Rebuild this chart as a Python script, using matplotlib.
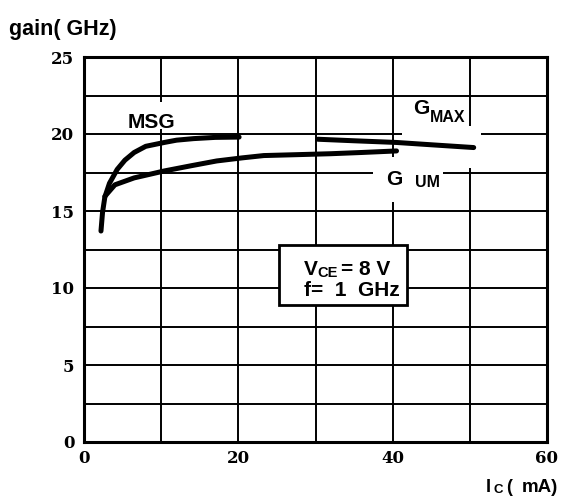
import matplotlib
matplotlib.use("Agg")
import matplotlib.pyplot as plt
from matplotlib.patches import Rectangle

# ---- data ----
msg_x = [2.2, 2.4, 2.7, 3.3, 4.3, 5.3, 6.5, 8.0, 10.4, 12.0, 14.2, 17.0, 20.1]
msg_y = [13.7, 14.9, 15.9, 16.8, 17.7, 18.3, 18.8, 19.2, 19.45, 19.6, 19.7, 19.78, 19.8]

gum_x = [2.7, 4.0, 6.5, 10.4, 14.0, 17.2, 20.5, 23.3, 27.0, 32.0, 36.0, 40.5]
gum_y = [15.95, 16.7, 17.15, 17.6, 17.95, 18.25, 18.45, 18.6, 18.65, 18.72, 18.8, 18.9]

gmax_x = [30.3, 35.0, 40.5, 45.0, 50.5]
gmax_y = [19.66, 19.56, 19.45, 19.3, 19.12]

x_ticks = [0, 10, 20, 30, 40, 50, 60]
x_tick_labels = ["0", "", "20", "", "40", "", "60"]
y_ticks = [0, 2.5, 5, 7.5, 10, 12.5, 15, 17.5, 20, 22.5, 25]
y_tick_labels = ["0", "", "5", "", "10", "", "15", "", "20", "", "25"]

fig = plt.figure(figsize=(5.63, 4.97), dpi=100)
ax = fig.add_axes([84 / 563, 1 - 442 / 497, (547 - 84) / 563, (442 - 57) / 497])
ax.set_xlim(0, 60)
ax.set_ylim(0, 25)

serif = dict(family="DejaVu Serif", fontsize=12, weight="bold")
ax.set_xticks(x_ticks)
ax.set_xticklabels(x_tick_labels, **serif)
ax.set_yticks(y_ticks)
ax.set_yticklabels(y_tick_labels, **serif)
ax.tick_params(length=0)
ax.tick_params(axis="x", pad=6)
ax.tick_params(axis="y", pad=7)
ax.grid(True, color="black", linewidth=1.4)
ax.set_axisbelow(True)
for s in ax.spines.values():
    s.set_linewidth(2.2)
    s.set_zorder(5)

# white gaps in the grid behind labels
for (x0, y0, w, h) in [(41.2, 17.8, 10.3, 2.7), (37.4, 15.6, 9.1, 2.9), (5.3, 20.3, 6.9, 1.8)]:
    ax.add_patch(Rectangle((x0, y0), w, h, facecolor="white", edgecolor="none", zorder=1.5))

lw = 3.6
ax.plot(msg_x, msg_y, color="black", lw=lw, solid_capstyle="round", zorder=3)
ax.plot(gum_x, gum_y, color="black", lw=lw, solid_capstyle="round", zorder=3)
ax.plot(gmax_x, gmax_y, color="black", lw=lw, solid_capstyle="round", zorder=3)

sans = "Liberation Sans"
big = dict(family=sans, fontsize=15, weight="bold", va="baseline", zorder=5)
small = dict(family=sans, fontsize=11.5, weight="bold", va="baseline", zorder=5)
ax.text(5.6, 20.4, "MSG", ha="left", **big)
ax.text(42.6, 21.3, "G", ha="left", **big)
ax.text(44.8, 20.8, "MAX", ha="left", **small)
ax.text(39.2, 16.7, "G", ha="left", **big)
ax.text(42.9, 16.55, "UM", ha="left", **small)

# condition box
ax.add_patch(Rectangle((25.3, 8.9), 16.5, 3.9, facecolor="white", edgecolor="black",
                       lw=2.0, zorder=4))
ax.text(28.5, 10.84, "V", ha="left", **big)
ax.text(30.3, 10.71, "CE", ha="left", **dict(small, fontsize=10.5))
ax.text(39.7, 10.84, "= 8 V", ha="right", **big)
ax.text(40.95, 9.48, "f=  1  GHz", ha="right", **big)

fig.text(9 / 563, 1 - 35 / 497, "gain( GHz)", family=sans, fontsize=15.5, weight="bold",
         ha="left", va="baseline")
lab = dict(family=sans, weight="bold", va="baseline")
fig.text(486 / 563, 1 - 492 / 497, "I", fontsize=13, ha="left", **lab)
fig.text(493 / 563, 1 - 493 / 497, "C", fontsize=9.5, ha="left", **lab)
fig.text(506 / 563, 1 - 492 / 497, "(", fontsize=13, ha="left", **lab)
fig.text(522 / 563, 1 - 492 / 497, "mA)", fontsize=13.5, ha="left", **lab)

fig.savefig("out.png", dpi=100)
